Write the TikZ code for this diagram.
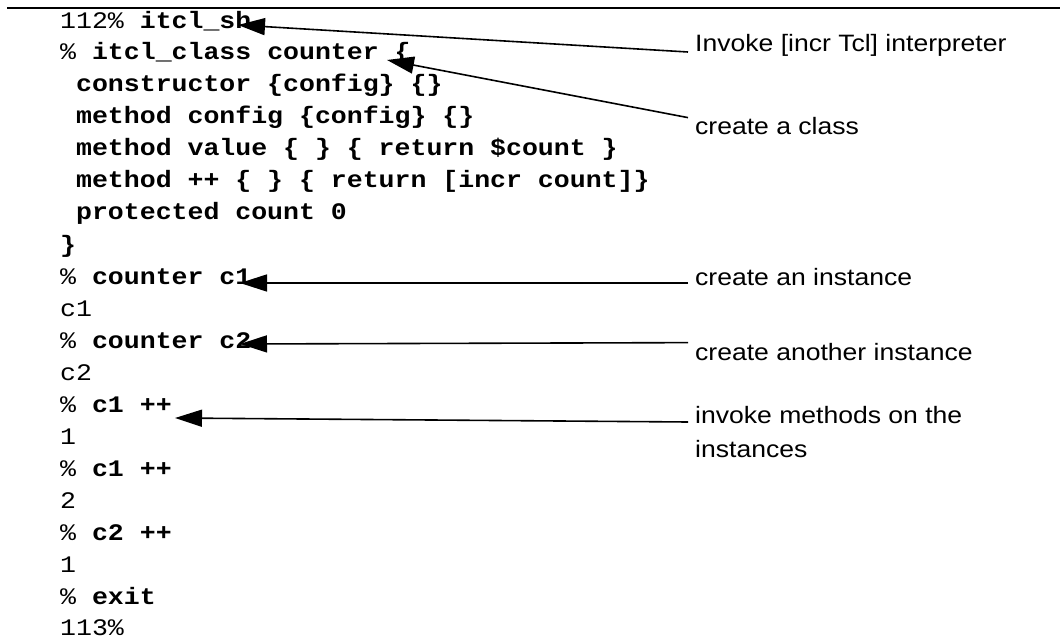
\documentclass[tikz,border=0pt]{standalone}
\usepackage{fontspec}
\setmonofont[FakeStretch=1.12]{Liberation Mono}
\newfontfamily\notefont[FakeStretch=1.12]{Liberation Sans}
\usetikzlibrary{arrows.meta}
\begin{document}
\begin{tikzpicture}[x=1pt,y=-1pt,
  code/.style={anchor=base west, inner sep=0pt, font=\ttfamily\fontsize{23.7}{32}\selectfont},
  note/.style={anchor=base west, inner sep=0pt, font=\notefont\fontsize{23.7}{32}\selectfont},
  pointer/.style={line width=1.6pt, -{Triangle[length=27pt,width=17pt]}}]
\useasboundingbox (0,0) rectangle (1060,639);

% rule under the page heading
\draw[line width=1.2pt] (7,8) -- (1060,8);

% interactive session
\node[code] (l1)  at (60,28.5) {112\% \textbf{itcl\_sh}};
\node[code] (l2)  at (60,60)  {\% \textbf{itcl\_class counter \{}};
\node[code] (l3)  at (60,92)  {\ \textbf{constructor \{config\} \{\}}};
\node[code] (l4)  at (60,124) {\ \textbf{method config \{config\} \{\}}};
\node[code] (l5)  at (60,156) {\ \textbf{method value \{ \} \{ return \$count \}}};
\node[code] (l6)  at (60,188) {\ \textbf{method ++ \{ \} \{ return [incr count]\}}};
\node[code] (l7)  at (60,220) {\ \textbf{protected count 0}};
\node[code] (l8)  at (60,252) {\textbf{\}}};
\node[code] (l9)  at (60,284) {\% \textbf{counter c1}};
\node[code] (l10) at (60,316) {c1};
\node[code] (l11) at (60,348) {\% \textbf{counter c2}};
\node[code] (l12) at (60,380) {c2};
\node[code] (l13) at (60,412) {\% \textbf{c1 ++}};
\node[code] (l14) at (60,444) {1};
\node[code] (l15) at (60,476) {\% \textbf{c1 ++}};
\node[code] (l16) at (60,508) {2};
\node[code] (l17) at (60,540) {\% \textbf{c2 ++}};
\node[code] (l18) at (60,572) {1};
\node[code] (l19) at (60,604) {\% \textbf{exit}};
\node[code] (l20) at (60,635) {113\%};

% annotations
\node[note] (n1)  at (695,52)  {Invoke [incr Tcl] interpreter};
\node[note] (n2)  at (695,135) {create a class};
\node[note] (n3)  at (695,285) {create an instance};
\node[note] (n4)  at (695,360) {create another instance};
\node[note] (n5)  at (695,423) {invoke methods on the};
\node[note] (n5b) at (695,457) {instances};

% arrow tips on the commands
\coordinate (t1) at (238,25);
\coordinate (t2) at (387,60);
\coordinate (t3) at (240,283);
\coordinate (t4) at (240,344);
\coordinate (t5) at (175,418);

\draw[pointer] ([xshift=-7pt]n1.base west) -- (t1);
\draw[pointer] ([xshift=-7pt]n2.north west) -- (t2);
\draw[pointer] ([xshift=-7pt,yshift=2pt]n3.base west) -- (t3);
\draw[pointer] ([xshift=-7pt]n4.north west) -- (t4);
\draw[pointer] ([xshift=-7pt,yshift=1pt]n5.base west) -- (t5);
\end{tikzpicture}
\end{document}
